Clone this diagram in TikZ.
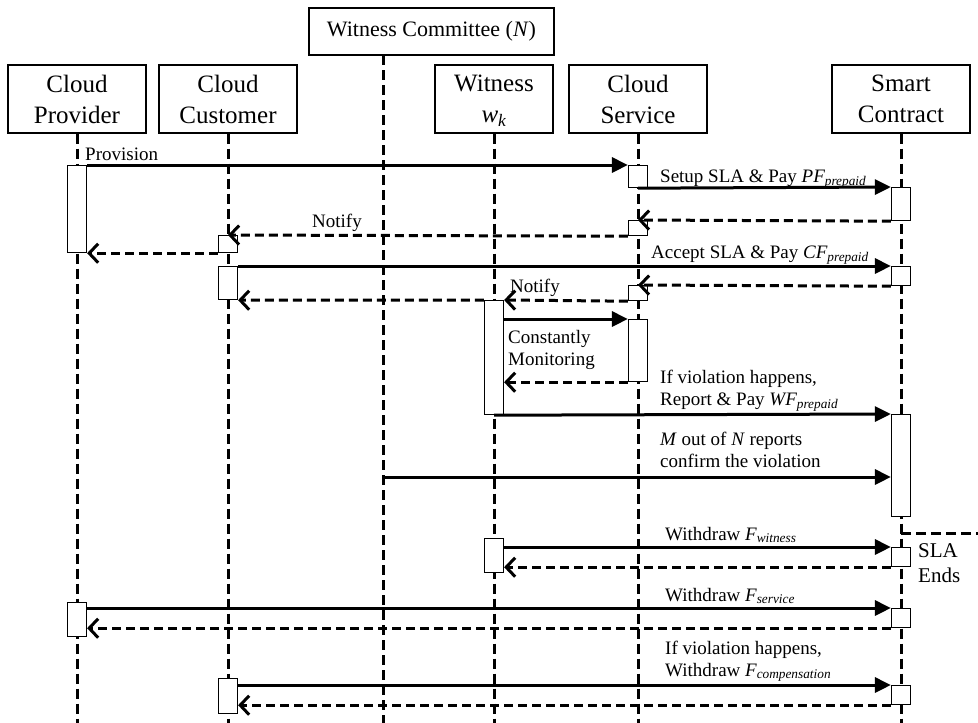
\documentclass[tikz,border=0pt]{standalone}
\usepackage{amsmath}
\usepackage{fontspec}
\setmainfont{Liberation Serif}
\usetikzlibrary{arrows.meta}

\begin{document}
\begin{tikzpicture}[x=1pt,y=-1pt,
    actor/.style={draw,line width=1.2pt,fill=white,minimum width=138pt,minimum height=68pt,align=center,inner sep=2pt,font=\fontsize{25}{31}\selectfont},
    life/.style={line width=3pt,dash pattern=on 10pt off 5pt},
    act/.style={draw,line width=1.2pt,fill=white,anchor=north,minimum width=19pt,inner sep=0pt},
    msg/.style={line width=3pt,-{Triangle[length=16pt,width=15pt]}},
    ret/.style={line width=3pt,dash pattern=on 9pt off 5pt,-{Straight Barb[length=9pt,width=19pt]}},
    lbl/.style={anchor=base west,inner sep=0pt,align=left,font=\fontsize{19}{22}\selectfont}]
                \useasboundingbox (0,0) rectangle (978,723);

                % participants
                \node[actor] at (77, 99) (prov) {Cloud\\Provider};
                \node[actor] at (228, 99) (cust) {Cloud\\Customer};
                \node[actor, minimum width=118pt] at (494, 99) (wit) {Witness\\\smash{$\textit{w}_{\textit{k}}$}};
                \node[actor] at (638, 99) (serv) {Cloud\\Service};
                \node[actor] at (901, 99) (sc) {Smart\\Contract};
                \node[actor, minimum width=245pt, minimum height=47pt, font=\fontsize{22}{26}\selectfont] at (431.5, 31.5) (comm) {Witness Committee (\textit{N})};

                % lifelines
                \coordinate (bot) at (0, 723);
                \coordinate (cw) at (383, 55);
                \foreach \n in {prov,cust,wit,serv,sc}
                    \draw[life] (\n.south) -- (\n.south |- bot);
                \draw[life] (cw) -- (cw |- bot);

                % activations
                \node[act, minimum height=87pt] at (77, 165) (pa1) {};
                \node[act, minimum height=34pt] at (77, 602) (pa2) {};
                \node[act, minimum height=17pt] at (228, 235) (ca1) {};
                \node[act, minimum height=33pt] at (228, 266) (ca2) {};
                \node[act, minimum height=35pt] at (228, 678) (ca3) {};
                \node[act, minimum height=114pt] at (494, 300) (wa1) {};
                \node[act, minimum height=34pt] at (494, 538) (wa2) {};
                \node[act, minimum height=22pt] at (638, 165) (sa1) {};
                \node[act, minimum height=15pt] at (638, 220) (sa2) {};
                \node[act, minimum height=15pt] at (638, 285) (sa3) {};
                \node[act, minimum height=62pt] at (638, 319) (sa4) {};
                \node[act, minimum height=33pt] at (901, 187) (ta1) {};
                \node[act, minimum height=19pt] at (901, 266) (ta2) {};
                \node[act, minimum height=102pt] at (901, 414) (ta3) {};
                \node[act, minimum height=19pt] at (901, 547) (ta4) {};
                \node[act, minimum height=19pt] at (901, 608) (ta5) {};
                \node[act, minimum height=19pt] at (901, 685) (ta6) {};

                % messages
                \draw[msg] (pa1.north east) -- (sa1.north west);
                \draw[msg] (sa1.south) -- (ta1.north west);
                \draw[ret] (ta1.south west) -- (sa2.north);
                \draw[ret] (sa2.south west) -- (ca1.north);
                \draw[ret] (ca1.south west) -- (pa1.south east);
                \draw[msg] (ca2.north east) -- (ta2.north west);
                \draw[ret] (ta2.south west) -- (sa3.north);
                \draw[ret] (sa3.south west) -- (wa1.north east);
                \draw[ret] (wa1.north west) -- (ca2.south east);
                \draw[msg] (wa1.east |- sa4.north) -- (sa4.north west);
                \draw[ret] (sa4.south west) -- (wa1.east |- sa4.south);
                \draw[msg] (wa1.south) -- (ta3.north west);
                \coordinate (cv) at (383, 477);
                \draw[msg] (cv) -- (ta3.west |- cv);
                \coordinate (se) at (978, 533);
                \draw[life] (sc.south |- se) -- (se);
                \draw[msg] (wa2.east |- ta4.north) -- (ta4.north west);
                \draw[ret] (ta4.south west) -- (wa2.east |- ta4.south);
                \draw[msg] (pa2.east |- ta5.north) -- (ta5.north west);
                \draw[ret] (ta5.south west) -- (pa2.east |- ta5.south);
                \draw[msg] (ca3.east |- ta6.north) -- (ta6.north west);
                \draw[ret] (ta6.south west) -- (ca3.east |- ta6.south);

                % labels (base = last line)
                \node[lbl] at (85, 160) (l1) {Provision};
                \node[lbl] at (660, 182) (l2) {Setup SLA \& Pay $\textit{PF}_{\textit{prepaid}}$};
                \node[lbl, anchor=base] at (337, 227) (l3) {Notify};
                \node[lbl] at (651, 258) (l4) {Accept SLA \& Pay $\textit{CF}_{\textit{prepaid}}$};
                \node[lbl] at (510, 292) (l5) {Notify};
                \node[lbl] at (508, 365) (l6) {Constantly\\Monitoring};
                \node[lbl] at (660, 405) (l7) {If violation happens,\\Report \& Pay $\textit{WF}_{\textit{prepaid}}$};
                \node[lbl] at (660, 467) (l8) {\textit{M} out of \textit{N} reports\\confirm the violation};
                \node[lbl, font=\fontsize{21}{25}\selectfont] at (918, 582) (l9) {SLA\\Ends};
                \node[lbl] at (665, 540) (l10) {Withdraw $\textit{F}_{\textit{witness}}$};
                \node[lbl] at (665, 601) (l11) {Withdraw $\textit{F}_{\textit{service}}$};
                \node[lbl] at (665, 676) (l12) {If violation happens,\\Withdraw $\textit{F}_{\textit{compensation}}$};
            \end{tikzpicture}
\end{document}
